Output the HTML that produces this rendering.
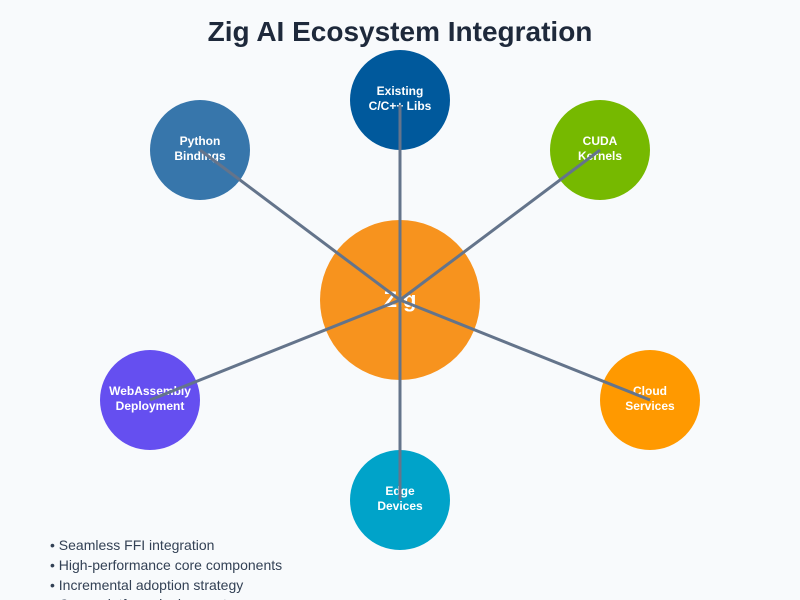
<!DOCTYPE html>
<html>
<head>
<meta charset="utf-8">
<style>
  html, body { margin: 0; padding: 0; background: #f8fafc; }
  body { width: 800px; height: 600px; overflow: hidden; }
  svg { display: block; }
  text { font-family: "Liberation Sans", Arial, sans-serif; }
</style>
</head>
<body>
<svg width="800" height="600" viewBox="0 0 800 600" xmlns="http://www.w3.org/2000/svg">
  <rect width="800" height="600" fill="#f8fafc"/>
  <text x="400" y="41" text-anchor="middle" font-size="28" font-weight="bold" fill="#1e293b">Zig AI Ecosystem Integration</text>

  <!-- center -->
  <circle cx="400" cy="300" r="80" fill="#f7931e"/>
  <text x="400" y="307" text-anchor="middle" font-size="22" font-weight="bold" fill="#ffffff">Zig</text>

  <!-- nodes -->
  <circle cx="200" cy="150" r="50" fill="#3776ab"/>
  <text x="200" y="145" text-anchor="middle" font-size="12" font-weight="bold" fill="#fff">Python</text>
  <text x="200" y="160" text-anchor="middle" font-size="12" font-weight="bold" fill="#fff">Bindings</text>

  <circle cx="400" cy="100" r="50" fill="#00599c"/>
  <text x="400" y="95" text-anchor="middle" font-size="12" font-weight="bold" fill="#fff">Existing</text>
  <text x="400" y="110" text-anchor="middle" font-size="12" font-weight="bold" fill="#fff">C/C++ Libs</text>

  <circle cx="600" cy="150" r="50" fill="#76b900"/>
  <text x="600" y="145" text-anchor="middle" font-size="12" font-weight="bold" fill="#fff">CUDA</text>
  <text x="600" y="160" text-anchor="middle" font-size="12" font-weight="bold" fill="#fff">Kernels</text>

  <circle cx="150" cy="400" r="50" fill="#654ff0"/>
  <text x="150" y="395" text-anchor="middle" font-size="12" font-weight="bold" fill="#fff">WebAssembly</text>
  <text x="150" y="410" text-anchor="middle" font-size="12" font-weight="bold" fill="#fff">Deployment</text>

  <circle cx="650" cy="400" r="50" fill="#ff9900"/>
  <text x="650" y="395" text-anchor="middle" font-size="12" font-weight="bold" fill="#fff">Cloud</text>
  <text x="650" y="410" text-anchor="middle" font-size="12" font-weight="bold" fill="#fff">Services</text>

  <circle cx="400" cy="500" r="50" fill="#00a3c9"/>
  <text x="400" y="495" text-anchor="middle" font-size="12" font-weight="bold" fill="#fff">Edge</text>
  <text x="400" y="510" text-anchor="middle" font-size="12" font-weight="bold" fill="#fff">Devices</text>

  <!-- connectors -->
  <g stroke="#64748b" stroke-width="3" stroke-linecap="butt">
    <line x1="400" y1="300" x2="200" y2="150"/>
    <line x1="400" y1="300" x2="400" y2="105"/>
    <line x1="400" y1="300" x2="600" y2="150"/>
    <line x1="400" y1="300" x2="150" y2="400"/>
    <line x1="400" y1="300" x2="650" y2="400"/>
    <line x1="400" y1="300" x2="400" y2="500"/>
  </g>

  <!-- bullets -->
  <g font-size="14" fill="#334155">
    <text x="50" y="550">• Seamless FFI integration</text>
    <text x="50" y="570">• High-performance core components</text>
    <text x="50" y="590">• Incremental adoption strategy</text>
    <text x="50" y="609">• Cross-platform deployment</text>
  </g>
</svg>
</body>
</html>
